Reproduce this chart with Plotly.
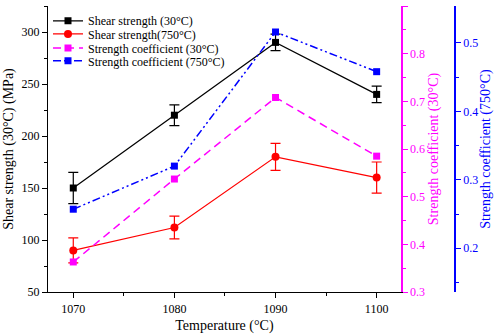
import plotly.graph_objects as go

temps = [1070, 1080, 1090, 1100]
shear_30 = [150, 220, 290, 240]
shear_30_err = [15, 10, 8, 8]
shear_750 = [90, 112, 180, 160]
shear_750_err = [12, 11, 13, 15]
coef_30 = [0.363, 0.537, 0.708, 0.585]
coef_750 = [0.257, 0.32, 0.516, 0.458]

FONT = "Liberation Serif"
fig = go.Figure()
fig.add_trace(go.Scatter(x=temps, y=shear_30, name="Shear strength (30°C)", mode="lines+markers", legend="legend",
                         line=dict(color="black", width=1.2), marker=dict(symbol="square", size=7, color="black"),
                         error_y=dict(type="data", array=shear_30_err, color="black", thickness=1.2, width=5)))
fig.add_trace(go.Scatter(x=temps, y=shear_750, name="Shear strength(750°C)", mode="lines+markers", legend="legend2",
                         line=dict(color="red", width=1.2), marker=dict(symbol="circle", size=8, color="red"),
                         error_y=dict(type="data", array=shear_750_err, color="red", thickness=1.2, width=5)))
fig.add_trace(go.Scatter(x=temps, y=coef_30, name="Strength coefficient (30°C)", mode="lines+markers", yaxis="y2",
                         legend="legend3",
                         line=dict(color="magenta", width=1.5, dash="8px,5px"),
                         marker=dict(symbol="square", size=7, color="magenta")))
fig.add_trace(go.Scatter(x=temps, y=coef_750, name="Strength coefficient (750°C)", mode="lines+markers", yaxis="y3",
                         legend="legend4",
                         line=dict(color="blue", width=1.5, dash="8px,3px,2px,3px,2px,3px"),
                         marker=dict(symbol="square", size=7, color="blue")))

tickf = dict(family=FONT, size=12)
def leg(y):
    return dict(x=0.0, y=y, xanchor="left", yanchor="top", bgcolor="rgba(0,0,0,0)",
                font=dict(family=FONT, size=12), itemwidth=30)

fig.update_layout(
    width=498, height=335,
    margin=dict(l=48, r=42, t=6, b=43),
    plot_bgcolor="white", paper_bgcolor="white",
    font=dict(family=FONT, size=12, color="black"),
    showlegend=True,
    legend=leg(0.999), legend2=leg(0.953), legend3=leg(0.904), legend4=leg(0.859),
    xaxis=dict(domain=[0, 0.865], range=[1067.5, 1102.4], tickvals=[1070, 1080, 1090, 1100], automargin=False,
               showline=True, linecolor="black", linewidth=1.2, ticks="outside", ticklen=5, tickcolor="black",
               minor=dict(tickvals=[1075, 1085, 1095], ticks="outside", ticklen=3, tickcolor="black"),
               showgrid=False, zeroline=False, tickfont=tickf,
               title=dict(text="Temperature (°C)", font=dict(family=FONT, size=14), standoff=5)),
    yaxis=dict(range=[50, 325], tickvals=[50, 100, 150, 200, 250, 300], automargin=False,
               showline=True, linecolor="black", linewidth=1.2, ticks="outside", ticklen=5, tickcolor="black",
               minor=dict(dtick=25, ticks="outside", ticklen=3, tickcolor="black"),
               showgrid=False, zeroline=False, tickfont=tickf,
               title=dict(text="Shear strength (30°C) (MPa)", font=dict(family=FONT, size=14), standoff=4)),
    yaxis2=dict(range=[0.3, 0.9], tickvals=[0.3, 0.4, 0.5, 0.6, 0.7, 0.8, 0.9], overlaying="y", side="right",
                anchor="x", automargin=False,
                showline=True, linecolor="magenta", linewidth=1.5, ticks="outside", ticklen=5, tickcolor="magenta",
                minor=dict(tickvals=[0.35, 0.45, 0.55, 0.65, 0.75, 0.85], ticks="outside", ticklen=3, tickcolor="magenta"),
                tickformat=".1f", showgrid=False, zeroline=False, tickfont=dict(family=FONT, size=12, color="magenta"),
                title=dict(text="Strength coefficient (30°C)", font=dict(family=FONT, size=14, color="magenta"), standoff=4)),
    yaxis3=dict(range=[0.136, 0.554], tickvals=[0.2, 0.3, 0.4, 0.5], overlaying="y", side="right",
                anchor="free", position=0.9975, automargin=False,
                showline=True, linecolor="blue", linewidth=1.5, ticks="outside", ticklen=5, tickcolor="blue",
                minor=dict(tickvals=[0.15, 0.25, 0.35, 0.45], ticks="outside", ticklen=3, tickcolor="blue"),
                tickformat=".1f", showgrid=False, zeroline=False, tickfont=dict(family=FONT, size=12, color="blue"),
                title=dict(text="Strength coefficient (750°C)", font=dict(family=FONT, size=14, color="blue"), standoff=2)),
)
fig.write_html("out.html", config={"displayModeBar": False}, post_script="document.body.style.margin='0';")
